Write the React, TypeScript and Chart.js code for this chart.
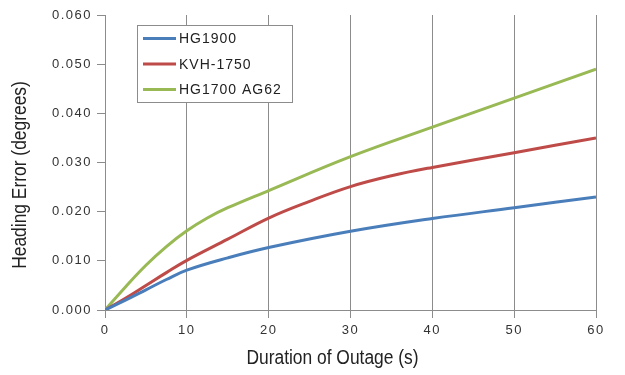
import React, { useEffect, useRef } from "react";
import { Chart, registerables } from "chart.js";

Chart.register(...registerables);

const seriesLabels = ["HG1900", "KVH-1750", "HG1700 AG62"];
const seriesColors = ["#4a7ebb", "#be4b48", "#98b954"];
const xTicks = [0, 10, 20, 30, 40, 50, 60];
const xTitle = "Duration of Outage (s)";
const yTitle = "Heading Error (degrees)";

const hg1900X = [0, 2.5, 5, 7.5, 10, 15, 20, 30, 40, 50, 60];
const hg1900Y = [0, 0.002, 0.0041, 0.0062, 0.0081, 0.0106, 0.0127, 0.016, 0.0186, 0.0208, 0.023];
const kvhX = [0, 2.5, 5, 7.5, 10, 15, 20, 25, 30, 35, 40, 50, 60];
const kvhY = [0, 0.0024, 0.005, 0.0076, 0.0101, 0.0144, 0.0187, 0.0221, 0.0251, 0.0273, 0.029, 0.032, 0.035];
const hg1700X = [0, 2.5, 5, 7.5, 10, 12.5, 15, 20, 30, 40, 50, 60];
const hg1700Y = [0, 0.0047, 0.0091, 0.0129, 0.0161, 0.0187, 0.0208, 0.0243, 0.0312, 0.0372, 0.0431, 0.049];

const xs = [hg1900X, kvhX, hg1700X];
const ys = [hg1900Y, kvhY, hg1700Y];

const FONT = "'Liberation Sans', Arial, sans-serif";

const spacing = {
  id: "spacing",
  beforeDraw(chart: any) {
    (chart.ctx as any).letterSpacing = "1.5px";
  },
};

const titles = {
  id: "titles",
  afterDraw(chart: any) {
    const ctx = chart.ctx;
    const sx = 0.87;
    ctx.save();
    (ctx as any).letterSpacing = "0px";
    ctx.fillStyle = "#222";
    ctx.font = `20px ${FONT}`;
    ctx.textAlign = "center";
    ctx.textBaseline = "middle";
    ctx.save();
    ctx.translate(332.5, 358);
    ctx.scale(sx, 1);
    ctx.fillText(xTitle, 0, 0);
    ctx.restore();
    ctx.save();
    ctx.translate(20, 175);
    ctx.rotate(-Math.PI / 2);
    ctx.scale(sx, 1);
    ctx.fillText(yTitle, 0, 0);
    ctx.restore();
    ctx.restore();
  },
};

const legendBox = {
  id: "legendBox",
  afterDraw(chart: any) {
    const ctx = chart.ctx;
    ctx.save();
    const x0 = 137.5, y0 = 25.5, w = 155, h = 77;
    ctx.strokeStyle = "#8c8c8c";
    ctx.lineWidth = 1;
    ctx.fillStyle = "#ffffff";
    ctx.fillRect(x0, y0, w, h);
    ctx.strokeRect(x0, y0, w, h);
    ctx.font = `14px ${FONT}`;
    ctx.textBaseline = "middle";
    ctx.textAlign = "left";
    chart.data.datasets.forEach((ds: any, i: number) => {
      const y = 38.5 + i * 25.5;
      ctx.strokeStyle = ds.borderColor;
      ctx.lineWidth = 3;
      ctx.beginPath();
      ctx.moveTo(143, y);
      ctx.lineTo(176, y);
      ctx.stroke();
      ctx.fillStyle = "#222";
      (ctx as any).letterSpacing = "1px";
      ctx.fillText(ds.label, 179, y + 1);
    });
    ctx.restore();
  },
};

export default function App() {
  const ref = useRef<HTMLCanvasElement>(null);
  useEffect(() => {
    document.body.style.margin = "0";
    const chart = new Chart(ref.current!, {
      type: "line",
      data: {
        datasets: seriesLabels.map((label, i) => ({
          label,
          data: xs[i].map((x, j) => ({ x, y: ys[i][j] })),
          borderColor: seriesColors[i],
          backgroundColor: seriesColors[i],
          borderWidth: 3,
          pointRadius: 0,
          tension: 0.4,
          fill: false,
        })),
      },
      options: {
        animation: false,
        responsive: false,
        layout: { padding: { top: 15, right: 29, left: 0, bottom: 0 } },
        plugins: { legend: { display: false }, tooltip: { enabled: false } },
        scales: {
          x: {
            type: "linear",
            min: 0,
            max: 60,
            afterFit(scale: any) {
              scale.height = 65;
            },
            afterBuildTicks(scale: any) {
              scale.ticks = xTicks.map((v) => ({ value: v }));
            },
            border: { color: "#8c8c8c", width: 1 },
            grid: { color: "#8c8c8c", lineWidth: 1, tickLength: 8, drawOnChartArea: true },
            ticks: {
              color: "#333",
              font: { family: FONT, size: 13 },
              padding: 5,
              maxRotation: 0,
            },
          },
          y: {
            min: 0,
            max: 0.06,
            afterFit(scale: any) {
              scale.width = 105;
            },
            border: { color: "#8c8c8c", width: 1 },
            grid: { color: "#8c8c8c", lineWidth: 1, tickLength: 8, drawOnChartArea: false },
            ticks: {
              stepSize: 0.01,
              color: "#333",
              font: { family: FONT, size: 13 },
              padding: 5,
              callback: (v: any) => Number(v).toFixed(3),
            },
          },
        },
      },
      plugins: [spacing, legendBox, titles],
    });
    return () => chart.destroy();
  }, []);
  return <canvas ref={ref} width={625} height={375} style={{ display: "block" }} />;
}
